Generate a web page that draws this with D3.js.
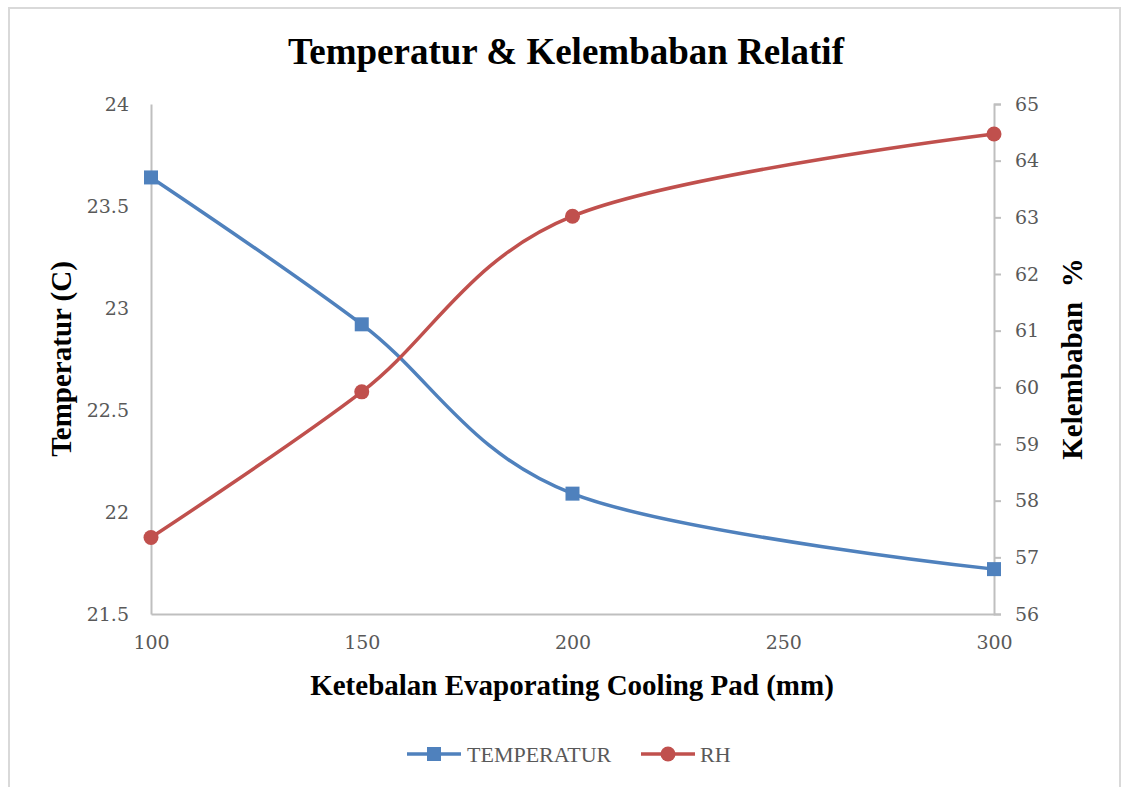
<!DOCTYPE html>
<html>
<head>
<meta charset="utf-8">
<script src="https://cdn.jsdelivr.net/npm/d3@7/dist/d3.min.js"></script>
<style>
  html, body { margin: 0; padding: 0; background: #ffffff; }
  svg { display: block; }
</style>
</head>
<body>
<svg id="chart" width="1122" height="787"></svg>
<script>
// Pad thickness (mm)
const thickness = [100, 150, 200, 300];
// Temperature (°C) per thickness
const temperatur = [23.64, 22.92, 22.09, 21.72];
// Relative humidity (%) per thickness
const rh = [57.35, 59.92, 63.02, 64.47];

const xTicks = [100, 150, 200, 250, 300];
const leftTicks = [21.5, 22, 22.5, 23, 23.5, 24];
const rightTicks = [56, 57, 58, 59, 60, 61, 62, 63, 64, 65];

const W = 1122, H = 787;
const margin = { left: 151, right: 1122 - 994, top: 104, bottom: 787 - 614 };

const svg = d3.select("#chart");
const tickFont = "'DejaVu Serif', 'Liberation Serif', serif";
const legendFont = "'Liberation Serif', serif";
const gray = "#595959";
const axisGray = "#bfbfbf";
const blue = "#4f81bd";
const red = "#c0504d";

// outer chart frame
svg.append("rect")
  .attr("x", 9).attr("y", 8)
  .attr("width", 1111).attr("height", 800)
  .attr("fill", "#fff")
  .attr("stroke", "#d9d9d9").attr("stroke-width", 2);

const x = d3.scaleLinear().domain([100, 300]).range([margin.left, W - margin.right]);
const yL = d3.scaleLinear().domain([21.5, 24]).range([H - margin.bottom, margin.top]);
const yR = d3.scaleLinear().domain([56, 65]).range([H - margin.bottom, margin.top]);

// Title
svg.append("text")
  .attr("x", 566).attr("y", 64)
  .attr("text-anchor", "middle")
  .attr("font-family", "'Liberation Serif', 'Times New Roman', serif")
  .attr("font-weight", "bold")
  .attr("font-size", 37)
  .attr("fill", "#000")
  .text("Temperatur & Kelembaban Relatif");

// Bottom axis
const xAxis = svg.append("g")
  .attr("transform", `translate(0,${yL(21.5)})`)
  .call(d3.axisBottom(x).tickValues(xTicks).tickSize(0).tickPadding(22).tickFormat(d3.format("d")));
xAxis.select(".domain").attr("stroke", axisGray).attr("stroke-width", 2);
xAxis.selectAll("text").attr("font-family", tickFont).attr("font-size", 19).attr("fill", gray);

// Left axis
const lAxis = svg.append("g")
  .attr("transform", `translate(${x(100)},0)`)
  .call(d3.axisLeft(yL).tickValues(leftTicks).tickSize(0).tickPadding(22).tickFormat(d => String(d)));
lAxis.select(".domain").attr("stroke", axisGray).attr("stroke-width", 2);
lAxis.selectAll("text").attr("font-family", tickFont).attr("font-size", 19).attr("fill", gray);

// Right axis
const rAxis = svg.append("g")
  .attr("transform", `translate(${x(300)},0)`)
  .call(d3.axisRight(yR).tickValues(rightTicks).tickSize(7).tickSizeOuter(7).tickPadding(14).tickFormat(d3.format("d")));
rAxis.select(".domain").attr("stroke", axisGray).attr("stroke-width", 2);
rAxis.selectAll(".tick line").attr("stroke", axisGray).attr("stroke-width", 2);
rAxis.selectAll("text").attr("font-family", tickFont).attr("font-size", 19).attr("fill", gray);

// Axis titles
const titleFont = "'Liberation Serif', 'Times New Roman', serif";
svg.append("text")
  .attr("transform", `translate(71,359) rotate(-90)`)
  .attr("text-anchor", "middle")
  .attr("font-family", titleFont).attr("font-weight", "bold").attr("font-size", 29)
  .text("Temperatur (C)");
svg.append("text")
  .attr("transform", `translate(1082,359) rotate(-90)`)
  .attr("text-anchor", "middle")
  .attr("font-family", titleFont).attr("font-weight", "bold").attr("font-size", 29)
  .attr("xml:space", "preserve")
  .text("Kelembaban  %");
svg.append("text")
  .attr("x", 572).attr("y", 695)
  .attr("text-anchor", "middle")
  .attr("font-family", titleFont).attr("font-weight", "bold").attr("font-size", 29)
  .text("Ketebalan Evaporating Cooling Pad (mm)");

// Series
const tData = thickness.map((t, i) => ({ x: t, y: temperatur[i] }));
const hData = thickness.map((t, i) => ({ x: t, y: rh[i] }));

const curve = d3.curveCardinal.tension(0);
const tLine = d3.line().x(d => x(d.x)).y(d => yL(d.y)).curve(curve);
const hLine = d3.line().x(d => x(d.x)).y(d => yR(d.y)).curve(curve);

svg.append("path").datum(tData).attr("d", tLine)
  .attr("fill", "none").attr("stroke", blue).attr("stroke-width", 3.5).attr("stroke-linejoin", "round");
svg.append("path").datum(hData).attr("d", hLine)
  .attr("fill", "none").attr("stroke", red).attr("stroke-width", 3.5).attr("stroke-linejoin", "round");

const sq = 14;
svg.selectAll(".tmark").data(tData).enter().append("rect")
  .attr("x", d => x(d.x) - sq / 2).attr("y", d => yL(d.y) - sq / 2)
  .attr("width", sq).attr("height", sq).attr("fill", blue);
svg.selectAll(".hmark").data(hData).enter().append("circle")
  .attr("cx", d => x(d.x)).attr("cy", d => yR(d.y)).attr("r", 7.5).attr("fill", red);

// Legend
const legY = 754;
const leg = svg.append("g");
leg.append("line").attr("x1", 407).attr("x2", 461).attr("y1", legY).attr("y2", legY)
  .attr("stroke", blue).attr("stroke-width", 3.5);
leg.append("rect").attr("x", 434 - 7).attr("y", legY - 7).attr("width", 14).attr("height", 14).attr("fill", blue);
leg.append("text").attr("x", 467).attr("y", legY + 8)
  .attr("font-family", legendFont).attr("font-size", 22).attr("fill", gray).text("TEMPERATUR");
leg.append("line").attr("x1", 641).attr("x2", 695).attr("y1", legY).attr("y2", legY)
  .attr("stroke", red).attr("stroke-width", 3.5);
leg.append("circle").attr("cx", 668).attr("cy", legY).attr("r", 7.5).attr("fill", red);
leg.append("text").attr("x", 700).attr("y", legY + 8)
  .attr("font-family", legendFont).attr("font-size", 22).attr("fill", gray).text("RH");
</script>
</body>
</html>
